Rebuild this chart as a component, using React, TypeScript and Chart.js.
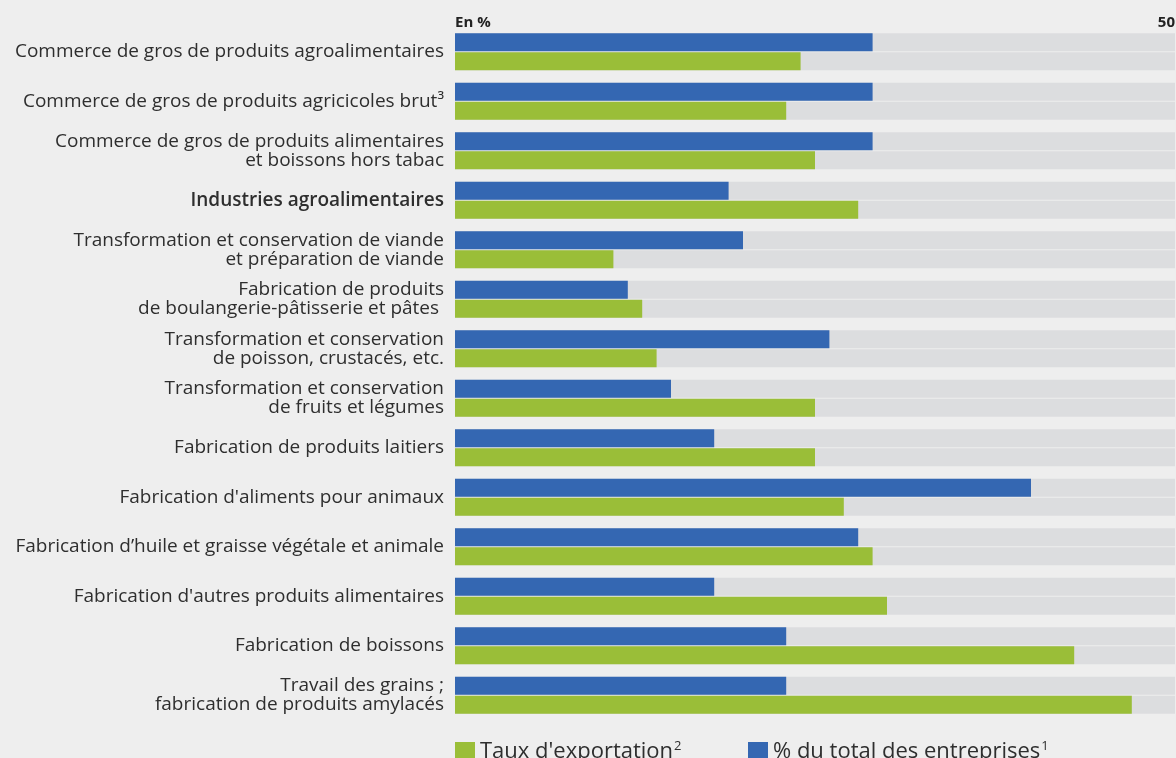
import React, { useEffect, useRef } from 'react';
import { Chart, registerables } from 'chart.js';

Chart.register(...registerables);

const categories: (string | string[])[] = [
  'Commerce de gros de produits agroalimentaires',
  'Commerce de gros de produits agricicoles brut³',
  ['Commerce de gros de produits alimentaires', 'et boissons hors tabac'],
  'Industries agroalimentaires',
  ['Transformation et conservation de viande', 'et préparation de viande'],
  ['Fabrication de produits', 'de boulangerie-pâtisserie et pâtes '],
  ['Transformation et conservation', 'de poisson, crustacés, etc.'],
  ['Transformation et conservation', 'de fruits et légumes'],
  'Fabrication de produits laitiers',
  "Fabrication d'aliments pour animaux",
  'Fabrication d’huile et graisse végétale et animale',
  "Fabrication d'autres produits alimentaires",
  'Fabrication de boissons',
  ['Travail des grains ;', 'fabrication de produits amylacés'],
];

const totalEntreprises = [29, 29, 29, 19, 20, 12, 26, 15, 18, 40, 28, 18, 23, 23];
const tauxExportation = [24, 23, 25, 28, 11, 13, 14, 25, 25, 27, 29, 30, 43, 47];

const axisMin = 0;
const axisMax = 50;
const axisTicks = [0, 50];
const axisUnitLabel = 'En %';
const trackValues = categories.map(() => axisMax);

const labelTotal = '% du total des entreprises';
const noteTotal = '1';
const labelExport = "Taux d'exportation";
const noteExport = '2';

const BLUE = '#3467b2';
const GREEN = '#9abe38';
const TRACK = '#dcdddf';
const PAGE_BG = '#eeeeee';
const TEXT = '#2e2e2e';
const FONT = "'Open Sans', 'Noto Sans', sans-serif";

export default function App() {
  const canvasRef = useRef<HTMLCanvasElement | null>(null);

  useEffect(() => {
    const canvas = canvasRef.current;
    if (!canvas) return;
    const chart = new Chart(canvas, {
      type: 'bar',
      data: {
        labels: categories,
        datasets: [
          { label: labelTotal + '¹', data: totalEntreprises, backgroundColor: BLUE, stack: 'a' },
          { label: labelExport + '²', data: tauxExportation, backgroundColor: GREEN, stack: 'b' },
          { label: 'trackA', data: trackValues, backgroundColor: TRACK, stack: 'a' },
          { label: 'trackB', data: trackValues, backgroundColor: TRACK, stack: 'b' },
        ],
      },
      options: {
        indexAxis: 'y',
        responsive: false,
        animation: false,
        maintainAspectRatio: false,
        datasets: {
          bar: {
            categoryPercentage: 0.768,
            barPercentage: 0.947,
            borderWidth: 0,
          },
        },
        layout: { padding: { left: 0, right: 1, top: 0, bottom: 38 } },
        plugins: {
          legend: { display: false },
          tooltip: { enabled: false },
          title: { display: false },
        },
        scales: {
          x: {
            position: 'top',
            min: axisMin,
            max: axisMax,
            stacked: false,
            afterBuildTicks: (scale: any) => {
              scale.ticks = axisTicks.map((v) => ({ value: v }));
            },
            afterFit: (scale: any) => {
              scale.height = 27;
            },
            grid: { display: false, drawTicks: false },
            border: { display: false },
            ticks: {
              align: 'inner',
              padding: -5,
              color: '#222',
              font: { family: FONT, size: 15, weight: 'bold' },
              callback: (v: any) => (Number(v) === 0 ? axisUnitLabel : String(v)),
            },
          },
          y: {
            stacked: true,
            afterFit: (scale: any) => {
              scale.width = 455;
              scale.paddingTop = 0;
              scale.paddingBottom = 0;
            },
            grid: { display: false, drawTicks: false },
            border: { display: false },
            ticks: {
              padding: 11,
              color: TEXT,
              autoSkip: false,
              font: (ctx: any) => ({
                family: FONT,
                size: 19,
                weight: ctx.index === 3 ? 600 : 'normal',
                lineHeight: '19px',
              }),
            },
          },
        },
      } as any,
    });
    return () => chart.destroy();
  }, []);

  const legendText: React.CSSProperties = {
    fontFamily: FONT,
    fontSize: 22,
    color: TEXT,
    lineHeight: '18px',
    whiteSpace: 'nowrap',
  };
  const supStyle: React.CSSProperties = {
    fontSize: 13,
    position: 'relative',
    top: -8,
    marginLeft: 1,
  };
  const box = (c: string): React.CSSProperties => ({
    width: 20,
    height: 18,
    background: c,
    marginRight: 5,
    flex: '0 0 auto',
  });

  return (
    <div
      style={{
        position: 'absolute',
        left: 0,
        top: 0,
        width: 1176,
        height: 758,
        background: PAGE_BG,
        overflow: 'hidden',
      }}
    >
      <canvas ref={canvasRef} width={1176} height={758} style={{ display: 'block' }} />
      <div style={{ position: 'absolute', left: 455, top: 740, display: 'flex', alignItems: 'center' }}>
        <div style={box(GREEN)} />
        <span style={legendText}>
          {labelExport}
          <span style={supStyle}>{noteExport}</span>
        </span>
      </div>
      <div style={{ position: 'absolute', left: 748, top: 740, display: 'flex', alignItems: 'center' }}>
        <div style={box(BLUE)} />
        <span style={legendText}>
          {labelTotal}
          <span style={supStyle}>{noteTotal}</span>
        </span>
      </div>
    </div>
  );
}
